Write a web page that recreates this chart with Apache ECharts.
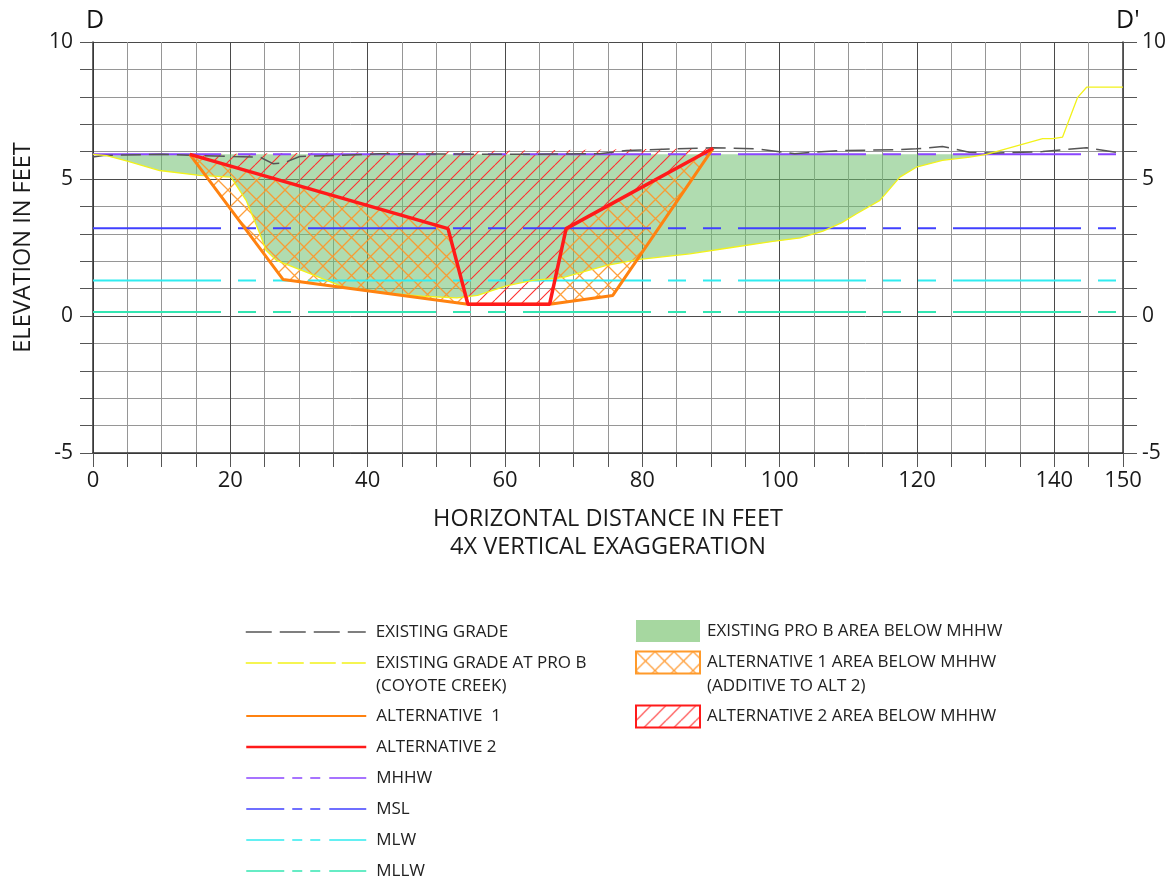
<!DOCTYPE html>
<html>
<head>
<meta charset="utf-8">
<script src="https://cdn.jsdelivr.net/npm/echarts@6/dist/echarts.min.js"></script>
<style>
  html, body { margin: 0; padding: 0; background: #ffffff; }
  #chart { width: 1172px; height: 884px; }
</style>
</head>
<body>
<div id="chart"></div>
<script>
// Cross section D - D': horizontal station (ft) vs elevation (ft), 4x vertical exaggeration
const stationMin = 0;
const stationMax = 150;
const elevMin = -5;
const elevMax = 10;

// Tidal datums (ft)
const tideNames = ['MHHW', 'MSL', 'MLW', 'MLLW'];
const tideElev = [5.9, 3.2, 1.3, 0.15];

// Existing grade
const gradeX = [0, 1.5, 10, 20.4, 24.3, 26.2, 27.7, 30.1, 35.4, 41.7, 60, 73.8, 77.7, 84.5, 90.3, 96.6, 102.2, 104.9, 108.7, 117.5, 119.9, 123.7, 127.6, 131, 138.3, 144.7, 150];
const gradeY = [5.8, 5.86, 5.9, 5.82, 5.8, 5.56, 5.58, 5.82, 5.86, 5.92, 5.9, 5.92, 6.04, 6.1, 6.14, 6.1, 5.92, 5.98, 6.04, 6.07, 6.1, 6.19, 5.98, 5.94, 6.0, 6.14, 5.94];

// Existing grade at Pro B (Coyote Creek)
const proBX = [0, 2, 5, 9.7, 15.5, 20.1, 22.3, 24.3, 25.2, 26.7, 31.6, 36.4, 43.6, 48, 53, 56, 60.2, 64, 68.4, 72.3, 74.8, 79.6, 86.9, 93, 99, 103, 106.3, 109, 111.2, 114.6, 117.5, 119.9, 123.7, 127.7, 130.1, 138.3, 139.8, 141.2, 143.4, 144.7, 150];
const proBY = [5.9, 5.85, 5.65, 5.31, 5.13, 5.07, 4.22, 3.0, 2.4, 2.03, 1.55, 1.06, 0.82, 0.72, 0.66, 0.75, 1.1, 1.3, 1.4, 1.67, 1.85, 2.07, 2.27, 2.5, 2.72, 2.85, 3.1, 3.4, 3.73, 4.22, 5.07, 5.43, 5.68, 5.8, 5.9, 6.47, 6.47, 6.53, 7.98, 8.35, 8.35];

// Alternative 1 channel section
const alt1X = [14.1, 27.7, 54.6, 66.5, 75.7, 90.3];
const alt1Y = [5.9, 1.33, 0.43, 0.43, 0.75, 6.12];

// Alternative 2 channel section
const alt2X = [14.1, 51.7, 54.6, 66.5, 68.9, 90.3];
const alt2Y = [5.9, 3.19, 0.43, 0.43, 3.19, 6.12];

// Axis tick labels
const stationLabels = [0, 20, 40, 60, 80, 100, 120, 140, 150];
const elevLabels = [-5, 0, 5, 10];

const FONT = 'Open Sans';
const zip = (xs, ys) => xs.map((x, i) => [x, ys[i]]);

const gradePts = zip(gradeX, gradeY);
const proBPts = zip(proBX, proBY);
const alt1Pts = zip(alt1X, alt1Y);
const alt2Pts = zip(alt2X, alt2Y);

// Pro B area below MHHW: grade from station 0 to where it climbs back to MHHW
const mhhw = tideElev[0];
const rejoin = proBPts.findIndex((p, i) => i > 0 && p[1] >= mhhw);
const proBWetArea = proBPts.slice(0, rejoin + 1);
// Alternative 2 excavation: closed along its top rim
const alt2Area = alt2Pts.slice();
// Alternative 1 extra excavation: between the Alt 1 and Alt 2 sections
const alt1Area = alt1Pts.concat(alt2Pts.slice(1, -1).reverse());

// Hatch textures
function hatch(size, color, width, cross) {
  const c = document.createElement('canvas');
  c.width = size; c.height = size;
  const g = c.getContext('2d');
  g.strokeStyle = color;
  g.lineWidth = width;
  g.beginPath();
  for (const o of [-size, 0, size]) {
    g.moveTo(o, size); g.lineTo(o + size, 0);
    if (cross) { g.moveTo(o, 0); g.lineTo(o + size, size); }
  }
  g.stroke();
  return c;
}
const greenFill = 'rgba(112,192,112,0.55)';
const crossFill = { image: hatch(19, 'rgba(255,150,40,0.9)', 1.3, true), repeat: 'repeat' };
const diagFill = { image: hatch(15, '#ff3030', 1.1, false), repeat: 'repeat' };

const NAME_GRADE = 'EXISTING GRADE';
const NAME_PROB = 'EXISTING GRADE AT PRO B';
const NAME_ALT1 = 'ALTERNATIVE  1';
const NAME_ALT2 = 'ALTERNATIVE 2';
const NAME_AREA_PROB = 'EXISTING PRO B AREA BELOW MHHW';
const NAME_AREA_ALT1 = 'ALTERNATIVE 1 AREA BELOW MHHW';
const NAME_AREA_ALT2 = 'ALTERNATIVE 2 AREA BELOW MHHW';

function areaSeries(name, pts, fill, z) {
  return {
    type: 'custom',
    name: name,
    coordinateSystem: 'cartesian2d',
    silent: true,
    z: z,
    data: pts,
    encode: { x: 0, y: 1 },
    itemStyle: { color: fill },
    renderItem: function (params, api) {
      if (params.dataIndex !== 0) return null;
      return {
        type: 'polygon',
        shape: { points: pts.map(p => api.coord(p)) },
        style: { fill: fill, stroke: null }
      };
    }
  };
}

function lineSeries(name, pts, color, width, dash, z) {
  return {
    type: 'line',
    name: name,
    data: pts,
    symbol: 'none',
    silent: true,
    z: z,
    lineStyle: { color: color, width: width, type: dash }
  };
}

const tideColors = ['#8a45ff', '#4040ff', '#30ecf0', '#34e6b2'];
const tideDash = [128, 17, 18, 17, 18, 17];

const series = [
  areaSeries(NAME_AREA_PROB, proBWetArea, greenFill, 1),
  areaSeries(NAME_AREA_ALT1, alt1Area, crossFill, 2),
  areaSeries(NAME_AREA_ALT2, alt2Area, diagFill, 3)
];
tideNames.forEach((n, i) => {
  series.push(lineSeries(n, [[stationMin, tideElev[i]], [stationMax, tideElev[i]]], tideColors[i], 2, tideDash, 4));
});
series.push(lineSeries(NAME_GRADE, gradePts, '#555555', 1.5, [20, 8], 5));
series.push(lineSeries(NAME_PROB, proBPts, '#f2f21a', 1.3, 'solid', 5));
series.push(lineSeries(NAME_ALT1, alt1Pts, '#ff8210', 3, 'solid', 6));
series.push(lineSeries(NAME_ALT2, alt2Pts, '#ff1a1a', 3.5, 'solid', 7));

const minorGrid = '#969696';
const majorGrid = '#4a4a4a';
const LEG_SIZE = 17;
const legendText = { fontFamily: FONT, fontSize: LEG_SIZE, color: '#222', lineHeight: 23, padding: [0, 0, 0, 5] };
const legendTextR = { fontFamily: FONT, fontSize: LEG_SIZE, color: '#222', lineHeight: 23, padding: [0, 0, 0, 2] };
const tideLegendDash = [38, 8, 10, 8, 10, 9];

// line entries (left column) and area swatches (right column)
function lineLegend(top, data) {
  return {
    orient: 'vertical', left: 245, top: top, itemGap: 8, padding: 0,
    itemWidth: 120, itemHeight: 14,
    itemStyle: { opacity: 0 },
    textStyle: legendText,
    selectedMode: false,
    data: data
  };
}
function areaLegend(top, data) {
  return {
    orient: 'vertical', left: 635, top: top, itemGap: 8, padding: 0,
    itemWidth: 64, itemHeight: 22,
    textStyle: legendTextR,
    selectedMode: false,
    data: data
  };
}

const option = {
  backgroundColor: '#ffffff',
  animation: false,
  title: [
    { text: 'D', left: 81, top: 3, textStyle: { fontFamily: FONT, fontSize: 25, fontWeight: 'normal', color: '#111' } },
    { text: "D'", left: 1111, top: 3, textStyle: { fontFamily: FONT, fontSize: 25, fontWeight: 'normal', color: '#111' } }
  ],
  grid: { left: 93, right: 49, top: 42, bottom: 431 },
  xAxis: {
    type: 'value', min: stationMin, max: stationMax, interval: 5,
    name: 'HORIZONTAL DISTANCE IN FEET\n4X VERTICAL EXAGGERATION',
    nameLocation: 'middle', nameGap: 52,
    nameTextStyle: { fontFamily: FONT, fontSize: 23.5, color: '#1a1a1a', lineHeight: 28 },
    axisLine: { show: true, onZero: false, lineStyle: { color: '#333', width: 1.5 } },
    axisTick: { show: true, length: 14, lineStyle: { color: '#555', width: 1 } },
    axisLabel: { margin: 17, fontFamily: FONT, fontSize: 22, color: '#1a1a1a', formatter: v => stationLabels.includes(v) ? String(v) : '' },
    splitLine: { show: true, lineStyle: { color: [majorGrid, minorGrid, minorGrid, minorGrid], width: 1 } }
  },
  yAxis: [
    {
      type: 'value', min: elevMin, max: elevMax, interval: 1, position: 'left',
      name: 'ELEVATION IN FEET', nameLocation: 'middle', nameGap: 58,
      nameTextStyle: { fontFamily: FONT, fontSize: 23.5, color: '#1a1a1a' },
      axisLine: { show: true, onZero: false, lineStyle: { color: '#333', width: 1.5 } },
      axisTick: { show: true, length: 13, lineStyle: { color: '#555', width: 1 } },
      axisLabel: { margin: 20, fontFamily: FONT, fontSize: 21, color: '#1a1a1a', formatter: v => elevLabels.includes(v) ? String(v) : '' },
      splitLine: { show: true, lineStyle: { color: [majorGrid, minorGrid, minorGrid, minorGrid, minorGrid], width: 1 } }
    },
    {
      type: 'value', min: elevMin, max: elevMax, interval: 1, position: 'right',
      axisLine: { show: true, onZero: false, lineStyle: { color: '#333', width: 1.5 } },
      axisTick: { show: true, length: 14, lineStyle: { color: '#555', width: 1 } },
      axisLabel: { margin: 19, fontFamily: FONT, fontSize: 21, color: '#1a1a1a', formatter: v => elevLabels.includes(v) ? String(v) : '' },
      splitLine: { show: false }
    }
  ],
  legend: [
    lineLegend(620.5, [
      { name: NAME_GRADE, lineStyle: { type: [26, 8], width: 1.5 } },
      { name: NAME_PROB, lineStyle: { type: [26, 6], width: 1.5 } }
    ]),
    lineLegend(704.5, [
      { name: NAME_ALT1, lineStyle: { width: 2 } },
      { name: NAME_ALT2, lineStyle: { width: 2.5 } },
      { name: 'MHHW', lineStyle: { type: tideLegendDash, width: 1.5 } },
      { name: 'MSL', lineStyle: { type: tideLegendDash, width: 1.5 } },
      { name: 'MLW', lineStyle: { type: tideLegendDash, width: 1.5 } },
      { name: 'MLLW', lineStyle: { type: tideLegendDash, width: 1.5 } }
    ]),
    areaLegend(619.5, [
      { name: NAME_AREA_PROB, icon: 'rect', itemStyle: { color: '#a6d7a0', borderWidth: 0, opacity: 1 } },
      { name: NAME_AREA_ALT1, icon: 'rect', itemStyle: { color: crossFill, borderColor: '#ff9a2a', borderWidth: 2, opacity: 1 } }
    ]),
    areaLegend(704.5, [
      { name: NAME_AREA_ALT2, icon: 'rect', itemStyle: { color: diagFill, borderColor: '#ff1a1a', borderWidth: 2, opacity: 1 } }
    ])
  ],
  // second lines of the two-line legend entries
  graphic: [
    { type: 'text', left: 376, top: 674.5, silent: true,
      style: { text: '(COYOTE CREEK)', fontFamily: FONT, fontSize: LEG_SIZE, lineHeight: 23, fill: '#222' } },
    { type: 'text', left: 707, top: 674.5, silent: true,
      style: { text: '(ADDITIVE TO ALT 2)', fontFamily: FONT, fontSize: LEG_SIZE, lineHeight: 23, fill: '#222' } }
  ],
  series: series
};

const chart = echarts.init(document.getElementById('chart'), null, { renderer: 'canvas' });
chart.setOption(option);
</script>
</body>
</html>
